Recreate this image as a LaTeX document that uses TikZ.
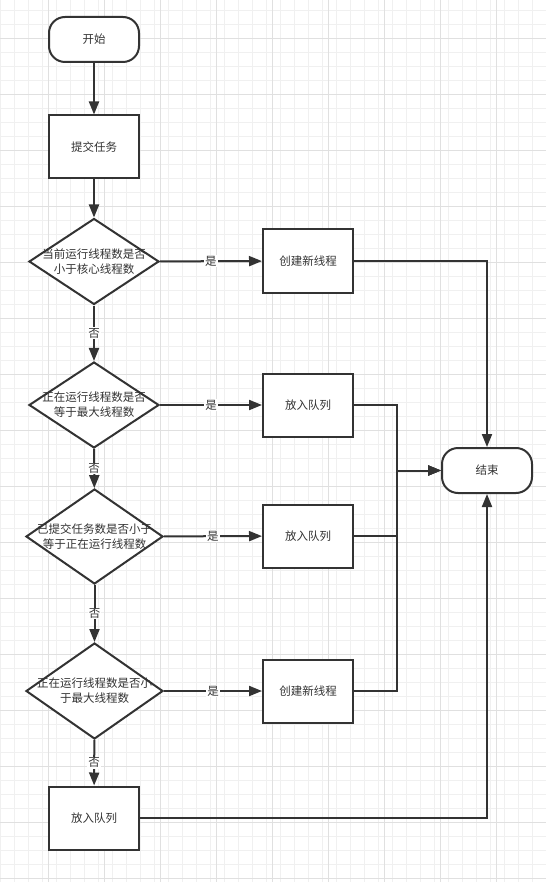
\documentclass[tikz,border=0pt]{standalone}
\usepackage{fontspec}
\setmainfont{Noto Sans CJK SC}
\usetikzlibrary{arrows.meta,shapes.geometric}
\definecolor{ink}{HTML}{333333}
\definecolor{gridminor}{HTML}{F0F0F0}
\definecolor{gridmajor}{HTML}{E0E0E0}

\begin{document}
\begin{tikzpicture}[x=1pt, y=-1pt, color=ink, line width=2pt, arrows={-Triangle[length=13pt,width=10pt]},
	font=\fontsize{11.5}{15}\selectfont,
	box/.style={rectangle, draw, fill=white, minimum width=90pt, minimum height=63pt, inner sep=0pt},
	term/.style={box, rounded corners=16pt, minimum height=45pt},
	test/.style={diamond, draw, fill=white, inner sep=0pt},
	tag/.style={fill=white, inner sep=1pt}]
	\useasboundingbox (0,0) rectangle (546,882);
	\fill[white] (0,0) rectangle (546,882);
	\begin{scope}[arrows=-, line width=1pt]
		\foreach \x in {0.7,14.7,...,546} \draw[gridminor] (\x,0) -- (\x,882);
		\foreach \y in {10.3,24.3,...,882} \draw[gridminor] (0,\y) -- (546,\y);
		\foreach \x in {48.7,104.7,...,546} \draw[gridmajor] (\x,0) -- (\x,882);
		\foreach \y in {38.3,94.3,...,882} \draw[gridmajor] (0,\y) -- (546,\y);
	\end{scope}

	\node[term] (start) at (94,39.5) {开始};
	\node[box] (submit) at (94,147) {提交任务};
	\node[test, minimum width=130pt, minimum height=86pt,
		label={[align=center]center:{当前运行线程数是否\\小于核心线程数}}] (core) at (94,261.5) {};
	\node[test, minimum width=130pt, minimum height=86pt,
		label={[align=center]center:{正在运行线程数是否\\等于最大线程数}}] (full) at (94,405) {};
	\node[test, minimum width=137pt, minimum height=95pt,
		label={[align=center]center:{已提交任务数是否小于\\等于正在运行线程数}}] (busy) at (94.5,536.5) {};
	\node[test, minimum width=137pt, minimum height=96pt,
		label={[align=center]center:{正在运行线程数是否小\\于最大线程数}}] (max) at (94.5,691) {};
	\node[box] (queueC) at (94,818) {放入队列};

	\node[box] (newA) at (308,261) {创建新线程};
	\node[box] (queueA) at (308,405) {放入队列};
	\node[box] (queueB) at (308,536) {放入队列};
	\node[box] (newB) at (308,691) {创建新线程};
	\node[term] (end) at (487,470.5) {结束};
	\coordinate (join) at (397,470.5);

	\draw (start) -- (submit);
	\draw (submit) -- (core);
	\draw (core) to node[tag] {是} (newA);
	\draw (core) to node[tag] {否} (full);
	\draw (full) to node[tag] {是} (queueA);
	\draw (full) to node[tag] {否} (busy);
	\draw (busy) to node[tag] {是} (queueB);
	\draw (busy) to node[tag] {否} (max);
	\draw (max) to node[tag] {是} (newB);
	\draw (max) to node[tag] {否} (queueC);

	\draw (newA) -| (end);
	\draw (queueA) -| (join) -- (end);
	\draw (queueB) -| (join) -- (end);
	\draw (newB) -| (join) -- (end);
	\draw (queueC) -| (end);
\end{tikzpicture}
\end{document}
